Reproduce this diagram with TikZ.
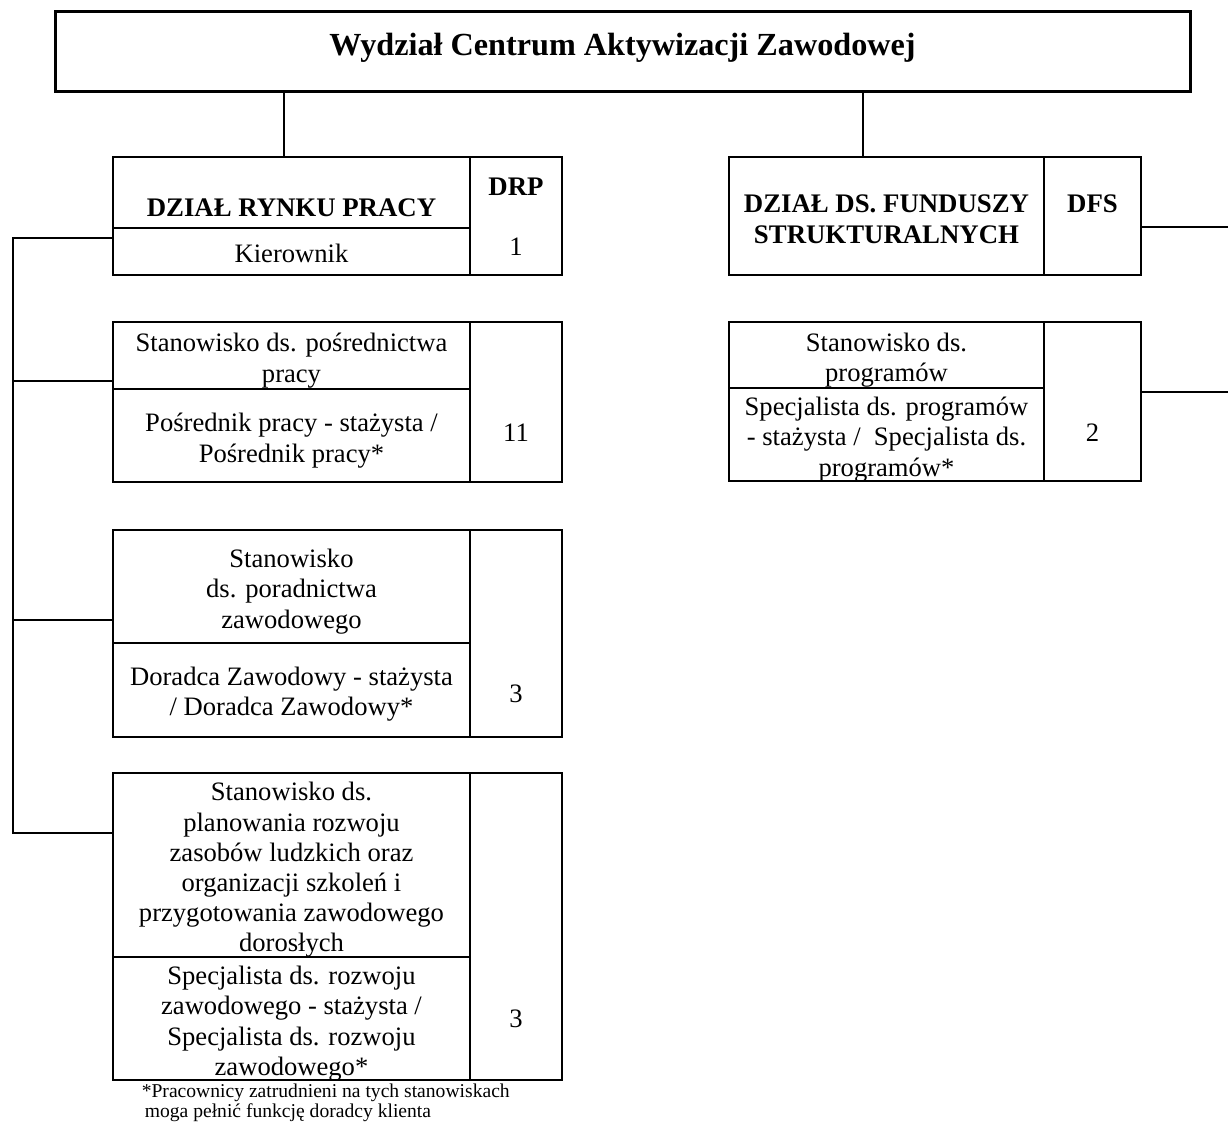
\documentclass[tikz,border=0pt]{standalone}
\usepackage{fontspec}
\setmainfont{Liberation Serif}
\usetikzlibrary{positioning}
\tikzset{
  cell/.style={draw, line width=0.8pt, inner sep=0pt},
  namecol/.style={cell, minimum width=178.5pt},
  numcol/.style={cell, minimum width=46pt},
  dfscol/.style={cell, minimum width=157.5pt},
  dfsnum/.style={cell, minimum width=48.5pt},
  hd/.style={font=\fontsize{13.4pt}{15.3pt}\selectfont\bfseries, align=center, inner sep=0pt},
  txt/.style={inner sep=0pt, align=center}
}
\begin{document}
\begin{tikzpicture}[x=0.5pt, y=-0.5pt, font=\fontsize{13.3pt}{15.2pt}\selectfont, line width=0.8pt]
\useasboundingbox (0,0) rectangle (1228,1122);
% naglowek
\node at (622.5,52) (title) [draw, line width=1.5pt, minimum width=567.5pt, minimum height=40pt] {};
\node at ([yshift=2pt]title.center) (titletext) [font=\fontsize{16.1pt}{19pt}\selectfont\bfseries, inner sep=0pt] {Wydział Centrum Aktywizacji Zawodowej};
% DRP
\node at (291.5,192.5) (drpname) [namecol, minimum height=35.5pt] {};
\node at ([yshift=-7.75pt]drpname.center) (drpnametext) [hd] {DZIAŁ RYNKU PRACY};
\node at (291.5,251.5) (kier) [namecol, minimum height=23.5pt] {};
\node at ([yshift=-1pt]kier.center) (kiertext) [txt] {Kierownik};
\node at (516,216) (drpcode) [numcol, minimum height=59pt] {};
\node at ([yshift=14.5pt]drpcode.center) (drpcodetext) [hd] {DRP};
\node at ([yshift=-15.5pt]drpcode.center) (drpnum) [txt] {1};
% posrednictwo
\node at (291.5,355.5) (posrtop) [namecol, minimum height=33.5pt] {};
\node at ([yshift=-2.5pt]posrtop.center) (posrtoptext) [txt] {Stanowisko ds. pośrednictwa\\pracy};
\node at (291.5,435.5) (posrbot) [namecol, minimum height=46.5pt] {};
\node at ([yshift=-2.5pt]posrbot.center) (posrbottext) [txt] {Pośrednik pracy - stażysta /\\Pośrednik pracy*};
\node at (516,402) (posrnum) [numcol, minimum height=80pt] {};
\node at ([yshift=-15.5pt]posrnum.center) (posrnumtext) [txt] {11};
% poradnictwo
\node at (291.5,586.5) (dortop) [namecol, minimum height=56.5pt] {};
\node at ([yshift=-2.5pt]dortop.center) (dortoptext) [txt] {Stanowisko\\ds. poradnictwa\\zawodowego};
\node at (291.5,690) (dorbot) [namecol, minimum height=47pt] {};
\node at ([yshift=-2pt]dorbot.center) (dorbottext) [txt] {Doradca Zawodowy - stażysta\\/ Doradca Zawodowy*};
\node at (516,633.5) (dornum) [numcol, minimum height=103.5pt] {};
\node at ([yshift=-30.25pt]dornum.center) (dornumtext) [txt] {3};
% planowanie
\node at (291.5,865) (plantop) [namecol, minimum height=92pt] {};
\node at ([yshift=-2.5pt]plantop.center) (plantoptext) [txt, font=\fontsize{13.3pt}{15.1pt}\selectfont] {Stanowisko ds.\\planowania rozwoju\\zasobów ludzkich oraz\\organizacji szkoleń i\\przygotowania zawodowego\\dorosłych};
\node at (291.5,1018.5) (planbot) [namecol, minimum height=61.5pt] {};
\node at ([yshift=-2.5pt]planbot.center) (planbottext) [txt] {Specjalista ds. rozwoju\\zawodowego - stażysta /\\Specjalista ds. rozwoju\\zawodowego*};
\node at (516,926.5) (plannum) [numcol, minimum height=153.5pt] {};
\node at ([yshift=-46.25pt]plannum.center) (plannumtext) [txt] {3};
% DFS
\node at (886.5,216) (dfsname) [dfscol, minimum height=59pt] {};
\node at ([yshift=-1.5pt]dfsname.center) (dfsnametext) [hd] {DZIAŁ DS. FUNDUSZY\\STRUKTURALNYCH};
\node at (1092.5,216) (dfscode) [dfsnum, minimum height=59pt] {};
\node at ([yshift=6pt]dfscode.center) (dfscodetext) [hd] {DFS};
\node at (886.5,355) (progtop) [dfscol, minimum height=33pt] {};
\node at ([yshift=-2.5pt]progtop.center) (progtoptext) [txt] {Stanowisko ds.\\programów};
\node at (886.5,434.5) (progbot) [dfscol, minimum height=46.5pt] {};
\node at ([yshift=-2.5pt]progbot.center) (progbottext) [txt] {Specjalista ds. programów\\- stażysta /\ \ Specjalista ds.\\programów*};
\node at (1092.5,401.5) (prognum) [dfsnum, minimum height=79.5pt] {};
\node at ([yshift=-15.75pt]prognum.center) (prognumtext) [txt] {2};
% przypis
\node at (141,1103) (note) [anchor=west, align=left, inner sep=0pt, font=\fontsize{9.8pt}{10.1pt}\selectfont] {*Pracownicy zatrudnieni na tych stanowiskach\\\hspace*{1.5pt}moga pełnić funkcję doradcy klienta};
% polaczenia
\coordinate (drptop) at (284,157) ;
\coordinate (dfstop) at (863,157) ;
\draw (title.south -| drptop) -- (drptop) ;
\draw (title.south -| dfstop) -- (dfstop) ;
\coordinate (b1) at (13,238) ;
\coordinate (b2) at (13,381) ;
\coordinate (b3) at (13,620) ;
\coordinate (b4) at (13,833) ;
\draw (b1 -| kier.west) -- (b1) -- (b4) -- (b4 -| plantop.west) ;
\draw (b2) -- (b2 -| posrtop.west) ; \draw (b3) -- (b3 -| dortop.west) ;
\coordinate (r1) at (1228,227) ;
\coordinate (r2) at (1228,392) ;
\draw (r1 -| dfscode.east) -- (r1) ; \draw (r2 -| prognum.east) -- (r2) ;
\end{tikzpicture}
\end{document}
